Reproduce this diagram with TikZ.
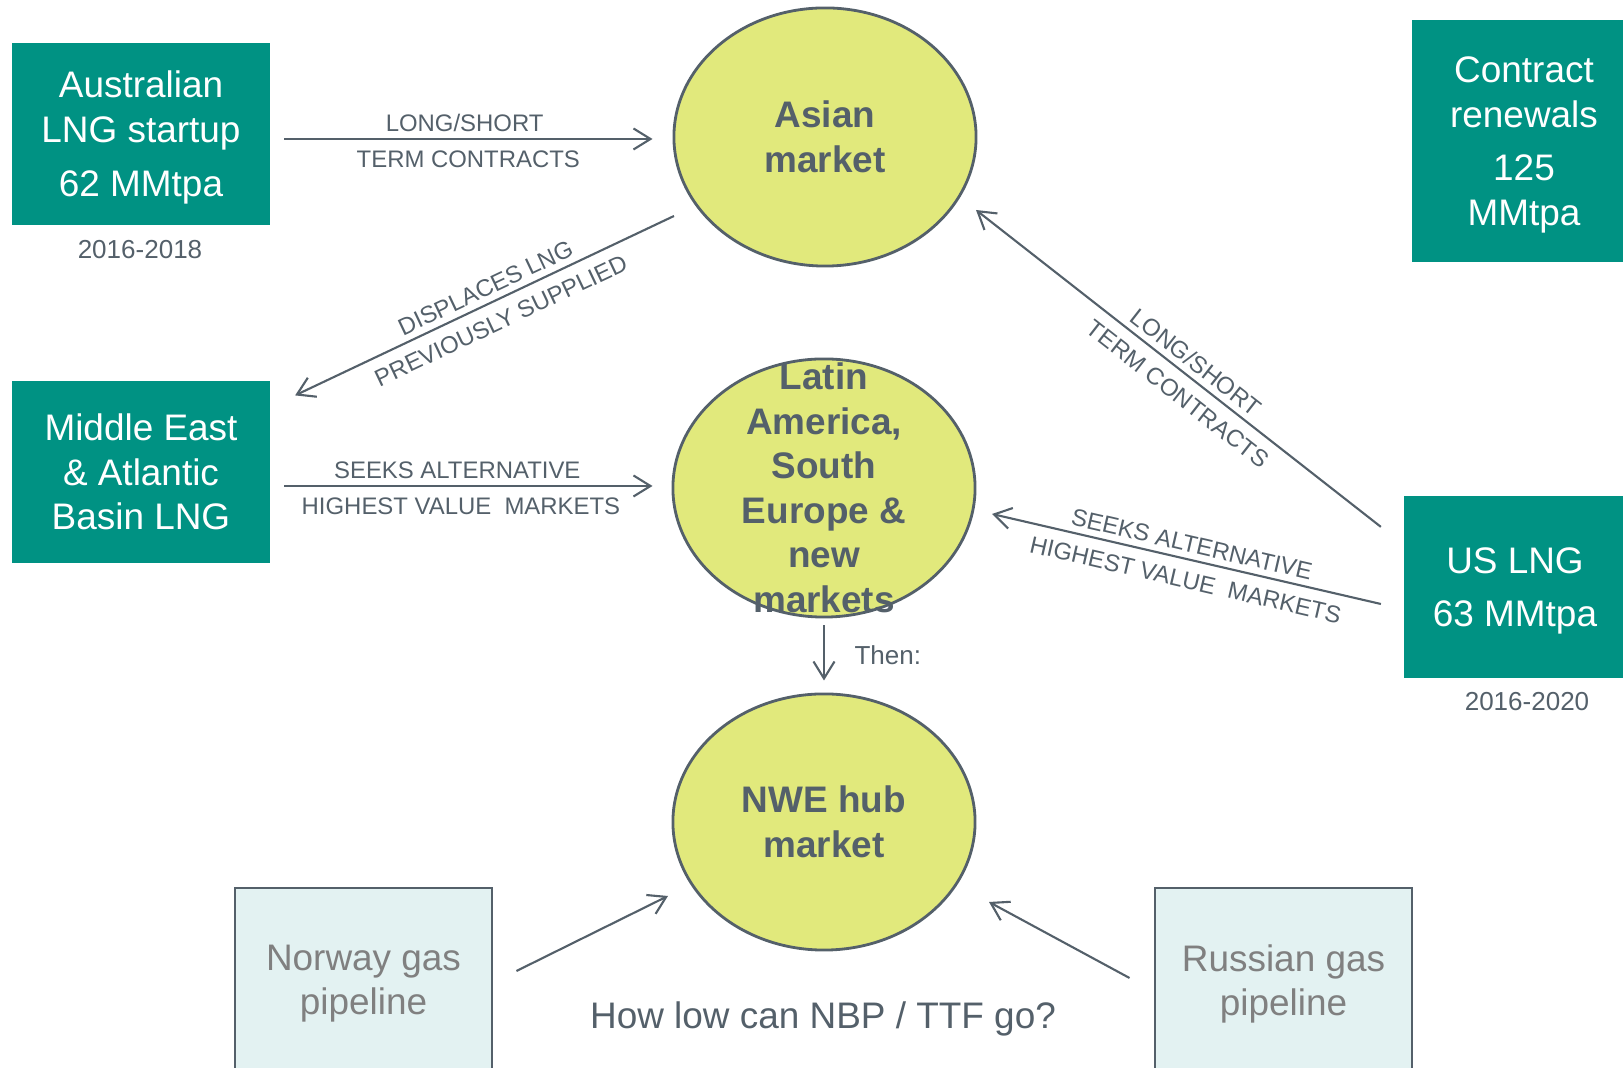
\documentclass[tikz,border=0pt]{standalone}
\usepackage{fontspec}
\setmainfont{Liberation Sans}
\usetikzlibrary{arrows.meta, calc, shapes.geometric}

\definecolor{lngteal}{RGB}{0,146,131}
\definecolor{mktfill}{RGB}{225,233,124}
\definecolor{slate}{RGB}{84,96,106}
\definecolor{pipefill}{RGB}{227,242,242}
\definecolor{pipetext}{RGB}{128,128,128}

\newcommand{\boxfont}{\fontsize{10.5}{12.65}\selectfont}
\newcommand{\tagfont}{\fontsize{6.8}{8}\selectfont}
\newcommand{\datefont}{\fontsize{7.4}{9}\selectfont}

\begin{document}
\begin{tikzpicture}[x=0.01cm, y=-0.01cm, line width=0.6pt,
  supply/.style={rectangle, fill=lngteal, text=white, align=center, font=\boxfont, inner sep=0pt, text depth=0pt},
  pipe/.style={rectangle, fill=pipefill, draw=slate, line width=0.8pt, text=pipetext, align=center,
    font=\boxfont, inner sep=0pt, text depth=0pt, minimum width=2.57cm, minimum height=1.84cm},
  market/.style={ellipse, fill=mktfill, draw=slate, line width=0.8pt, text=slate, align=center,
    font=\boxfont\bfseries, inner sep=0pt, minimum width=3.02cm, minimum height=2.58cm},
  flow/.style={draw=slate, -{Straight Barb[length=0.17cm, width=0.21cm]}},
  tag/.style={text=slate, font=\tagfont, inner sep=0.035cm},
  tagup/.style={tag, above=0.025cm},
  tagdown/.style={tag, below=0.075cm}]
  \useasboundingbox (0,0) rectangle (1623,1068);
  % LNG supply boxes
  \node[supply, minimum width=2.58cm, minimum height=1.82cm] (aus) at (141,134) {Australian\\LNG startup\\[0.1cm]62 MMtpa};
  \node[tag, font=\datefont] (aus-date) at (140,250) {2016-2018};
  \node[supply, minimum width=2.58cm, minimum height=1.81cm] (mideast) at (141,472) {Middle East\\\& Atlantic\\Basin LNG};
  \node[supply, minimum width=2.24cm, minimum height=2.42cm] (renew) at (1524,141) {Contract\\renewals\\[0.09cm]125\\MMtpa};
  \node[supply, minimum width=2.22cm, minimum height=1.82cm] (us) at (1515,587) {US LNG\\[0.09cm]63 MMtpa};
  \node[tag, font=\datefont] (us-date) at (1527,702) {2016-2020};
  % markets
  \node[market] (asia) at (825,137) {Asian\\market};
  \node[market] (latin) at (824,488) {};
  \node[font=\boxfont\bfseries, text=slate, align=center, inner sep=0pt] (latin-txt) at (latin) {Latin\\America,\\South\\Europe \&\\new\\markets};
  \node[market, minimum height=2.56cm] (nwe) at (824,822) {NWE hub\\market};
  % pipelines
  \node[pipe] (norway) at (363.5,980) {Norway gas\\pipeline};
  \node[pipe] (russia) at (1283.5,980) {Russian gas\\pipeline};
  \node[font=\boxfont, text=slate, inner sep=0pt, text depth=0pt] (question) at (823,1015) {How low can NBP / TTF go?};
  % flows
  \draw[flow] ($(aus.east |- asia.west)+(13,2)$) -- ($(asia.west)+(-20,2)$)
    node[tagup, pos=0.49] (aus-lbl1) {LONG/SHORT}
    node[tagdown, midway] (aus-lbl2) {TERM CONTRACTS};
  \draw[flow] ($(asia.center)+(-151,79)$) -- ($(mideast.north east)+(24,15)$)
    node[tagup, pos=0.48, sloped] (disp-lbl1) {DISPLACES LNG}
    node[tagdown, pos=0.48, sloped] (disp-lbl2) {PREVIOUSLY SUPPLIED};
  \draw[flow] ($(mideast.east |- latin.west)+(13,-2)$) -- ($(latin.west)+(-19,-2)$)
    node[tagup, pos=0.47] (me-lbl1) {SEEKS ALTERNATIVE}
    node[tagdown, pos=0.48] (me-lbl2) {HIGHEST VALUE\ \ MARKETS};
  \draw[flow] ($(us.north west)+(-22,32)$) -- ($(asia.center)+(151,73)$)
    node[tagup, pos=0.48, sloped] (us-lbl1) {LONG/SHORT}
    node[tagdown, pos=0.47, sloped] (us-lbl2) {TERM CONTRACTS};
  \draw[flow] ($(us.west)+(-22,17)$) -- ($(latin.center)+(168,26)$)
    node[tagup, pos=0.495, sloped] (us-lbl3) {SEEKS ALTERNATIVE}
    node[tagdown, pos=0.49, sloped] (us-lbl4) {HIGHEST VALUE\ \ MARKETS};
  \draw[flow, shorten <=0.07cm, shorten >=0.12cm] (latin.south) -- (nwe.north)
    node[tag, font=\datefont, midway, right=0.26cm] (then) {Then:};
  \draw[flow] ($(norway.east)+(23,-9)$) -- ($(nwe.center)+(-156,74)$);
  \draw[flow] ($(russia.west)+(-24,-2)$) -- ($(nwe.center)+(165,80)$);
\end{tikzpicture}
\end{document}
